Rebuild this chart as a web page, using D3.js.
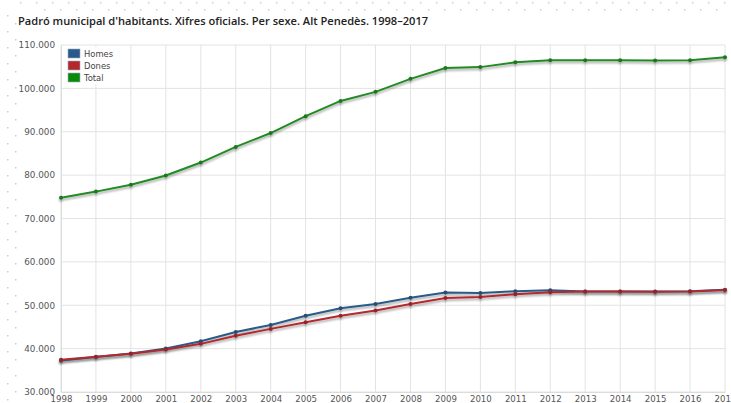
<!DOCTYPE html>
<html><head><meta charset="utf-8">
<script src="https://cdn.jsdelivr.net/npm/d3@7"></script>
<style>body{margin:0;background:#fff;}svg{display:block;}</style>
</head><body>
<svg id="c" width="731" height="403"></svg>
<script>
const years = [1998,1999,2000,2001,2002,2003,2004,2005,2006,2007,2008,2009,2010,2011,2012,2013,2014,2015,2016,2017];
const homes = [37250,38050,38850,40050,41700,43850,45450,47600,49300,50300,51750,52950,52800,53250,53450,53150,53150,53150,53250,53550];
const dones = [37450,38100,38800,39800,41100,42950,44550,46100,47600,48800,50300,51650,51900,52550,53000,53150,53150,53100,53150,53500];
const total = [74800,76200,77800,79900,82900,86500,89700,93600,97100,99200,102200,104700,104900,106000,106500,106500,106500,106400,106500,107200];
const yTicks = [30000,40000,50000,60000,70000,80000,90000,100000,110000];
const seriesNames = ["Homes","Dones","Total"];
const seriesColors = ["#2b5a88","#b02a2e","#238a23"];
const legendColors = ["#2a5a8c","#b3282d","#0a8a0a"];

const svg = d3.select("#c");
const x = d3.scaleLinear().domain([1998,2017]).range([61,725]);
const y = d3.scaleLinear().domain([30000,110000]).range([392,45]);
const fmt = v => d3.format(",")(v).replace(/,/g,".") ;

// dotted decoration
const dots = svg.append("g").attr("fill","#cfcfcf");
for(let i=0;i<46;i++){ dots.append("rect").attr("x",20+i*16).attr("y",2).attr("width",1.5).attr("height",1.5); }
for(let i=0;i<45;i++){ dots.append("rect").attr("x",44+i*16).attr("y",9).attr("width",1.5).attr("height",1.5); }
for(let i=0;i<25;i++){ dots.append("rect").attr("x",7).attr("y",15+i*16).attr("width",1.5).attr("height",1.5); }
for(let i=0;i<25;i++){ dots.append("rect").attr("x",15).attr("y",23+i*16).attr("width",1.5).attr("height",1.5); }

svg.append("text").attr("x",18).attr("y",25).text("Padró municipal d'habitants. Xifres oficials. Per sexe. Alt Penedès. 1998–2017")
  .attr("font-family","Open Sans").attr("font-weight",600).attr("font-size",11.1).attr("fill","#222");

const defs = svg.append("defs");
const f = defs.append("filter").attr("id","sh").attr("x","-5%").attr("y","-20%").attr("width","110%").attr("height","140%");
f.append("feGaussianBlur").attr("in","SourceAlpha").attr("stdDeviation",1.2).attr("result","b");
f.append("feOffset").attr("in","b").attr("dx",0).attr("dy",1.5).attr("result","o");
f.append("feComponentTransfer").attr("in","o").attr("result","o2").append("feFuncA").attr("type","linear").attr("slope",0.35);
const m = f.append("feMerge"); m.append("feMergeNode").attr("in","o2"); m.append("feMergeNode").attr("in","SourceGraphic");

// grid
const grid = svg.append("g");
grid.selectAll("line.v").data(years).enter().append("line")
  .attr("x1",d=>x(d)).attr("x2",d=>x(d)).attr("y1",y(110000)).attr("y2",y(30000))
  .attr("stroke","#e3e3e3").attr("stroke-width",1);
grid.selectAll("line.h").data(yTicks).enter().append("line")
  .attr("x1",x(1998)).attr("x2",x(2017)).attr("y1",d=>y(d)).attr("y2",d=>y(d))
  .attr("stroke","#e3e3e3").attr("stroke-width",1);

// axes
const yAxis = svg.append("g").attr("transform",`translate(${x(1998)},0)`)
  .call(d3.axisLeft(y).tickValues(yTicks).tickFormat(fmt).tickSize(0).tickPadding(6));
yAxis.select(".domain").attr("stroke","#dcdcdc");
yAxis.selectAll("text").attr("font-family","DejaVu Sans").attr("font-size",8.8).attr("fill","#555");
const xAxis = svg.append("g").attr("transform",`translate(0,${y(30000)})`)
  .call(d3.axisBottom(x).tickValues(years).tickFormat(d3.format("d")).tickSize(0).tickPadding(4));
xAxis.select(".domain").attr("stroke","#dcdcdc");
xAxis.selectAll("text").attr("font-family","DejaVu Sans").attr("font-size",8.6).attr("fill","#555");

// lines
const data = [homes,dones,total];
const line = d3.line().x((d,i)=>x(years[i])).y(d=>y(d));
data.forEach((s,k)=>{
  const g = svg.append("g").attr("filter","url(#sh)");
  g.append("path").datum(s).attr("d",line).attr("fill","none").attr("stroke",seriesColors[k]).attr("stroke-width",2);
  g.selectAll("circle").data(s).enter().append("circle")
    .attr("cx",(d,i)=>x(years[i])).attr("cy",d=>y(d)).attr("r",2).attr("fill",d3.color(seriesColors[k]).darker(0.4));
});

// legend
const lg = svg.append("g").attr("transform","translate(66,47)");
lg.append("rect").attr("x",0).attr("y",0).attr("width",52).attr("height",38).attr("fill","#fff").attr("opacity",0.9);
seriesNames.forEach((n,i)=>{
  lg.append("rect").attr("x",2).attr("y",2+i*12).attr("width",12).attr("height",9)
    .attr("fill",legendColors[i]).attr("stroke","#9ab").attr("stroke-width",0.6);
  lg.append("text").attr("x",18).attr("y",10+i*12).text(n)
    .attr("font-family","DejaVu Sans").attr("font-size",8.4).attr("fill","#444");
});
</script>
</body></html>
